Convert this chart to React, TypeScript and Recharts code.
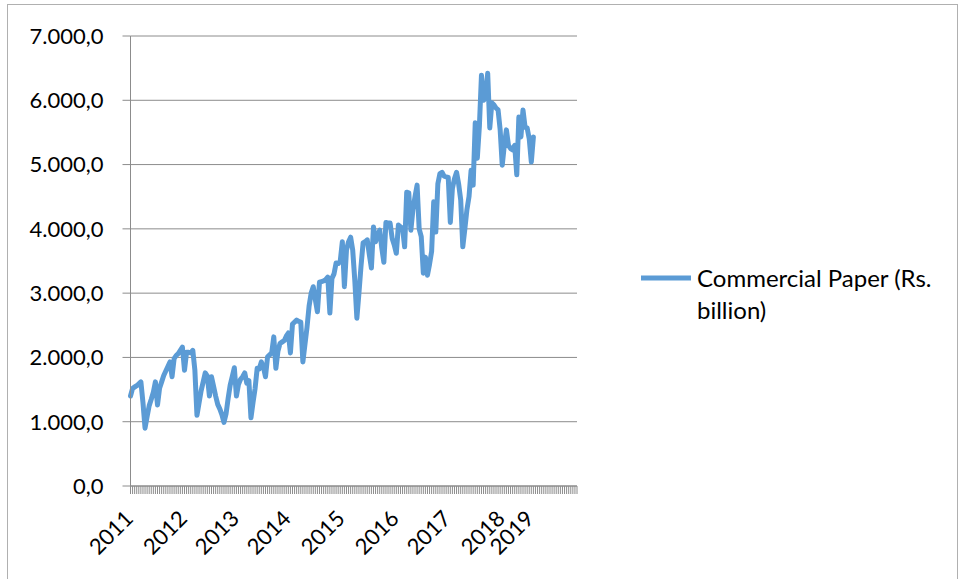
import React from "react";
import {
  LineChart,
  Line,
  XAxis,
  YAxis,
  CartesianGrid,
  Legend,
} from "recharts";

// Outstanding commercial paper, fortnightly readings grouped by calendar year
const cp2011 = [
  1400, 1520, 1540, 1560, 1590, 1620, 1300, 900, 1080, 1250, 1350, 1460, 1620,
  1260, 1520, 1620, 1720, 1790, 1860, 1930, 1700, 1980, 2030, 2060, 2110, 2160,
];
const cp2012 = [
  1800, 2080, 2080, 2070, 2110, 1800, 1100, 1290, 1480, 1620, 1760, 1710, 1400,
  1700, 1550, 1400, 1270, 1200, 1110, 990, 1120, 1360, 1570, 1700, 1840,
];
const cp2013 = [
  1400, 1580, 1660, 1700, 1760, 1600, 1640, 1060, 1300, 1520, 1830, 1820, 1930,
  1850, 1700, 2010, 2040, 2070, 2320, 1830, 2100, 2220, 2240, 2260, 2330,
];
const cp2014 = [
  2380, 2070, 2520, 2550, 2580, 2560, 2550, 1930, 2200, 2470, 2800, 3000, 3100,
  2900, 2710, 3170, 3180, 3190, 3210, 3250, 2690, 3230, 3300, 3470, 3460, 3500,
];
const cp2015 = [
  3800, 3100, 3670, 3800, 3870, 3670, 3200, 2610, 3000, 3420, 3780, 3800, 3830,
  3600, 3390, 4030, 3800, 3900, 3980, 3700, 3480, 4100, 4090, 4090, 3850, 3750,
];
const cp2016 = [
  3620, 4060, 4030, 4010, 3720, 4570, 4560, 3980, 4300, 4500, 4680, 4000, 3880,
  3310, 3560, 3280, 3450, 3650, 4420, 3950, 4700, 4860, 4880, 4820, 4810,
];
const cp2017 = [
  4800, 4100, 4630, 4780, 4880, 4700, 4450, 3720, 4000, 4300, 4500, 4910, 4680,
  5650, 5100, 5600, 6390, 6000, 6050, 6420, 5570, 5960, 5930, 5880, 5850, 5540,
];
const cp2018 = [
  4990, 5300, 5540, 5300, 5250, 5230, 5300, 4840, 5740, 5430, 5850, 5580, 5570,
  5400,
];
const cp2019 = [5040, 5430];

const years = ["2011", "2012", "2013", "2014", "2015", "2016", "2017", "2018", "2019"];
const yearlySeries = [cp2011, cp2012, cp2013, cp2014, cp2015, cp2016, cp2017, cp2018, cp2019];

// empty category slots the axis keeps after the last reading
const trailingSlots = 21;

const yTicks = [0, 1000, 2000, 3000, 4000, 5000, 6000, 7000];

const SERIES_NAME = "Commercial Paper (Rs. billion)";
const LINE_COLOR = "#5B9BD5";
const AXIS_GRAY = "#8c8c8c";
const FONT = "Lato, 'Noto Sans', sans-serif";

const values: number[] = yearlySeries.flat();
const yearAt: Record<number, string> = {};
let cursor = 0;
yearlySeries.forEach((arr, k) => {
  yearAt[cursor] = years[k];
  cursor += arr.length;
});

const chartData = Array.from({ length: values.length + trailingSlots }, (_, i) => ({
  idx: i,
  cp: i < values.length ? values[i] : null,
}));

// 7000 -> "7.000,0"
const formatValue = (v: number) => {
  const [intPart, dec] = v.toFixed(1).split(".");
  return intPart.replace(/\B(?=(\d{3})+(?!\d))/g, ".") + "," + dec;
};

const YearTick = (props: any) => {
  const { x, y, payload } = props;
  const label = yearAt[payload.value];
  if (!label) return null;
  return (
    <g transform={`translate(${x + 4},${y + 24})`}>
      <text
        x={0}
        y={0}
        textAnchor="end"
        transform="rotate(-45)"
        fontSize={22}
        fontFamily={FONT}
        fill="#000"
      >
        {label}
      </text>
    </g>
  );
};

const LegendBox = () => (
  <div style={{ display: "flex", alignItems: "flex-start" }}>
    <svg width={52} height={30} style={{ flex: "none" }}>
      <line x1={1} y1={16} x2={51} y2={16} stroke={LINE_COLOR} strokeWidth={5} />
    </svg>
    <div
      style={{
        marginLeft: 5,
        width: 262,
        fontFamily: FONT,
        fontSize: 24,
        lineHeight: "32px",
        color: "#000",
      }}
    >
      {SERIES_NAME}
    </div>
  </div>
);

export default function App() {
  return (
    <div
      style={{
        position: "absolute",
        left: 0,
        top: 0,
        width: 961,
        height: 579,
        background: "#fff",
        overflow: "hidden",
      }}
    >
      <div
        style={{
          position: "absolute",
          left: 7,
          top: 4,
          width: 949,
          height: 620,
          border: "1px solid #b0b0b0",
        }}
      />
      <LineChart
        width={961}
        height={579}
        data={chartData}
        margin={{ top: 36, right: 384, bottom: 33, left: 0 }}
      >
        <CartesianGrid vertical={false} stroke={AXIS_GRAY} strokeWidth={1} />
        <XAxis
          dataKey="idx"
          type="category"
          interval={0}
          height={60}
          tickSize={8}
          axisLine={{ stroke: AXIS_GRAY }}
          tickLine={{ stroke: AXIS_GRAY }}
          tick={<YearTick />}
        />
        <YAxis
          width={130.5}
          domain={[0, 7000]}
          ticks={yTicks}
          interval={0}
          tickSize={8}
          tickMargin={19}
          tickFormatter={formatValue}
          axisLine={{ stroke: AXIS_GRAY }}
          tickLine={{ stroke: AXIS_GRAY }}
          tick={{ fontSize: 22, fontFamily: FONT, fill: "#000" }}
        />
        <Legend
          layout="horizontal"
          verticalAlign="middle"
          align="center"
          content={<LegendBox />}
          wrapperStyle={{ left: 640, top: 262, width: 320 }}
        />
        <Line
          name={SERIES_NAME}
          type="linear"
          dataKey="cp"
          stroke={LINE_COLOR}
          strokeWidth={5}
          strokeLinejoin="round"
          strokeLinecap="round"
          dot={false}
          activeDot={false}
          isAnimationActive={false}
        />
      </LineChart>
    </div>
  );
}
